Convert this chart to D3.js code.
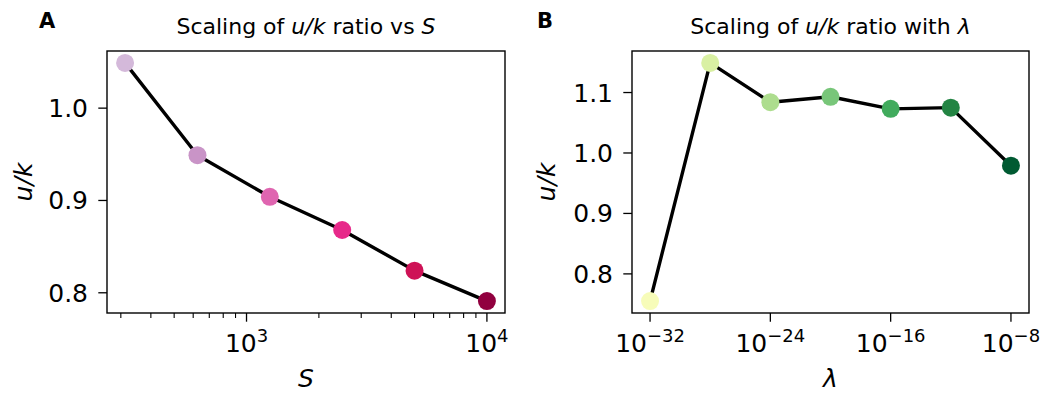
<!DOCTYPE html>
<html>
<head>
<meta charset="utf-8">
<script src="https://cdn.jsdelivr.net/npm/d3@7"></script>
<style>
  body { margin: 0; background: #fff; }
  svg { font-family: "DejaVu Sans", sans-serif; }
</style>
</head>
<body>
<svg id="chart" width="1047" height="395"></svg>
<script>
// Panel A: u/k ratio against system size S
var sizes = [312.5, 625, 1250, 2500, 5000, 10000];
var ratioVsS = [1.049, 0.949, 0.904, 0.868, 0.824, 0.791];
var colorsA = ["#d4b9da", "#c994c7", "#df65b0", "#e7298a", "#ce1256", "#91003f"];
var xTicksA = [1e3, 1e4];
var xTickLabelsA = [["10", "3"], ["10", "4"]];
var yTicksA = [0.8, 0.9, 1.0];

// Panel B: u/k ratio against lambda
var lambdas = [1e-32, 1e-28, 1e-24, 1e-20, 1e-16, 1e-12, 1e-8];
var ratioVsLambda = [0.755, 1.149, 1.084, 1.093, 1.073, 1.075, 0.979];
var colorsB = ["#f7fcb9", "#d9f0a3", "#addd8e", "#78c679", "#41ab5d", "#238443", "#005a32"];
var xTicksB = [1e-32, 1e-24, 1e-16, 1e-8];
var xTickLabelsB = [["10", "\u221232"], ["10", "\u221224"], ["10", "\u221216"], ["10", "\u22128"]];
var yTicksB = [0.8, 0.9, 1.0, 1.1];

var svg = d3.select("#chart");

// matplotlib-like 5% padding, in log space for log axes
function padded(lo, hi) {
  var m = (hi - lo) * 0.05;
  return [lo - m, hi + m];
}

function drawPanel(p) {
  var g = svg.append("g");

  var lx = padded(Math.log10(d3.min(p.xs)), Math.log10(d3.max(p.xs)));
  var x = d3.scaleLog()
    .domain([Math.pow(10, lx[0]), Math.pow(10, lx[1])])
    .range([p.left, p.right]);
  var y = d3.scaleLinear()
    .domain(padded(d3.min(p.ys), d3.max(p.ys)))
    .range([p.bottom, p.top]);

  // minor ticks (log axis, only panel A shows them)
  if (p.minor) {
    var minor = x.ticks().filter(function(t) {
      return p.xTicks.indexOf(t) < 0;
    });
    g.append("g")
      .attr("transform", "translate(0," + p.bottom + ")")
      .selectAll("line").data(minor).enter().append("line")
      .attr("x1", function(d) { return x(d); })
      .attr("x2", function(d) { return x(d); })
      .attr("y1", 0).attr("y2", 5)
      .attr("stroke", "#000").attr("stroke-width", 1.1);
  }

  // major x ticks
  var xt = g.append("g").attr("transform", "translate(0," + p.bottom + ")");
  xt.selectAll("line").data(p.xTicks).enter().append("line")
    .attr("x1", function(d) { return x(d); })
    .attr("x2", function(d) { return x(d); })
    .attr("y1", 0).attr("y2", 8.7)
    .attr("stroke", "#000").attr("stroke-width", 1.3);
  var lab = xt.selectAll("text").data(p.xTicks).enter().append("text")
    .attr("x", function(d) { return x(d); })
    .attr("y", 39)
    .attr("text-anchor", "middle")
    .attr("font-size", 25)
    .attr("fill", "#000");
  lab.append("tspan").text(function(d, i) { return p.xTickLabels[i][0]; });
  lab.append("tspan")
    .attr("dy", -10)
    .attr("font-size", 18)
    .text(function(d, i) { return p.xTickLabels[i][1]; });

  // y ticks
  var yt = g.append("g").attr("transform", "translate(" + p.left + ",0)");
  yt.selectAll("line").data(p.yTicks).enter().append("line")
    .attr("x1", -8.7).attr("x2", 0)
    .attr("y1", function(d) { return y(d); })
    .attr("y2", function(d) { return y(d); })
    .attr("stroke", "#000").attr("stroke-width", 1.3);
  yt.selectAll("text").data(p.yTicks).enter().append("text")
    .attr("x", -19)
    .attr("y", function(d) { return y(d); })
    .attr("dy", "0.36em")
    .attr("text-anchor", "end")
    .attr("font-size", 25)
    .attr("fill", "#000")
    .text(d3.format(".1f"));

  // line and markers
  var pts = p.xs.map(function(v, i) { return { x: v, y: p.ys[i], c: p.colors[i] }; });
  g.append("path")
    .datum(pts)
    .attr("fill", "none")
    .attr("stroke", "#000")
    .attr("stroke-width", 3.4)
    .attr("stroke-linejoin", "round")
    .attr("d", d3.line().x(function(d) { return x(d.x); }).y(function(d) { return y(d.y); }));
  g.selectAll("circle").data(pts).enter().append("circle")
    .attr("cx", function(d) { return x(d.x); })
    .attr("cy", function(d) { return y(d.y); })
    .attr("r", 9)
    .attr("fill", function(d) { return d.c; });

  // frame
  g.append("rect")
    .attr("x", p.left).attr("y", p.top)
    .attr("width", p.right - p.left).attr("height", p.bottom - p.top)
    .attr("fill", "none").attr("stroke", "#000").attr("stroke-width", 1.4);

  var cx = (p.left + p.right) / 2;

  // title with italic pieces
  var t = svg.append("text")
    .attr("x", cx).attr("y", 34)
    .attr("text-anchor", "middle")
    .attr("font-size", 22);
  p.title.forEach(function(part) {
    t.append("tspan")
      .attr("font-style", part[1] ? "italic" : null)
      .text(part[0]);
  });

  // panel letter
  svg.append("text")
    .attr("x", p.letterX).attr("y", 28)
    .attr("font-size", 21)
    .attr("font-weight", "bold")
    .text(p.letter);

  // axis labels
  svg.append("text")
    .attr("x", cx).attr("y", 387)
    .attr("text-anchor", "middle")
    .attr("font-size", 25)
    .attr("font-style", "italic")
    .text(p.xLabel);
  svg.append("text")
    .attr("transform", "translate(" + p.yLabelX + "," + ((p.top + p.bottom) / 2) + ") rotate(-90)")
    .attr("text-anchor", "middle")
    .attr("font-size", 25)
    .attr("font-style", "italic")
    .text("u/k");
}

drawPanel({
  xs: sizes, ys: ratioVsS, colors: colorsA,
  xTicks: xTicksA, xTickLabels: xTickLabelsA, yTicks: yTicksA, minor: true,
  left: 107, right: 505, top: 51, bottom: 313,
  title: [["Scaling of ", false], ["u/k", true], [" ratio vs ", false], ["S", true]],
  letter: "A", letterX: 39, xLabel: "S", yLabelX: 32
});

drawPanel({
  xs: lambdas, ys: ratioVsLambda, colors: colorsB,
  xTicks: xTicksB, xTickLabels: xTickLabelsB, yTicks: yTicksB, minor: false,
  left: 632, right: 1029, top: 51, bottom: 313,
  title: [["Scaling of ", false], ["u/k", true], [" ratio with ", false], ["\u03bb", true]],
  letter: "B", letterX: 537, xLabel: "\u03bb", yLabelX: 555
});
</script>
</body>
</html>
